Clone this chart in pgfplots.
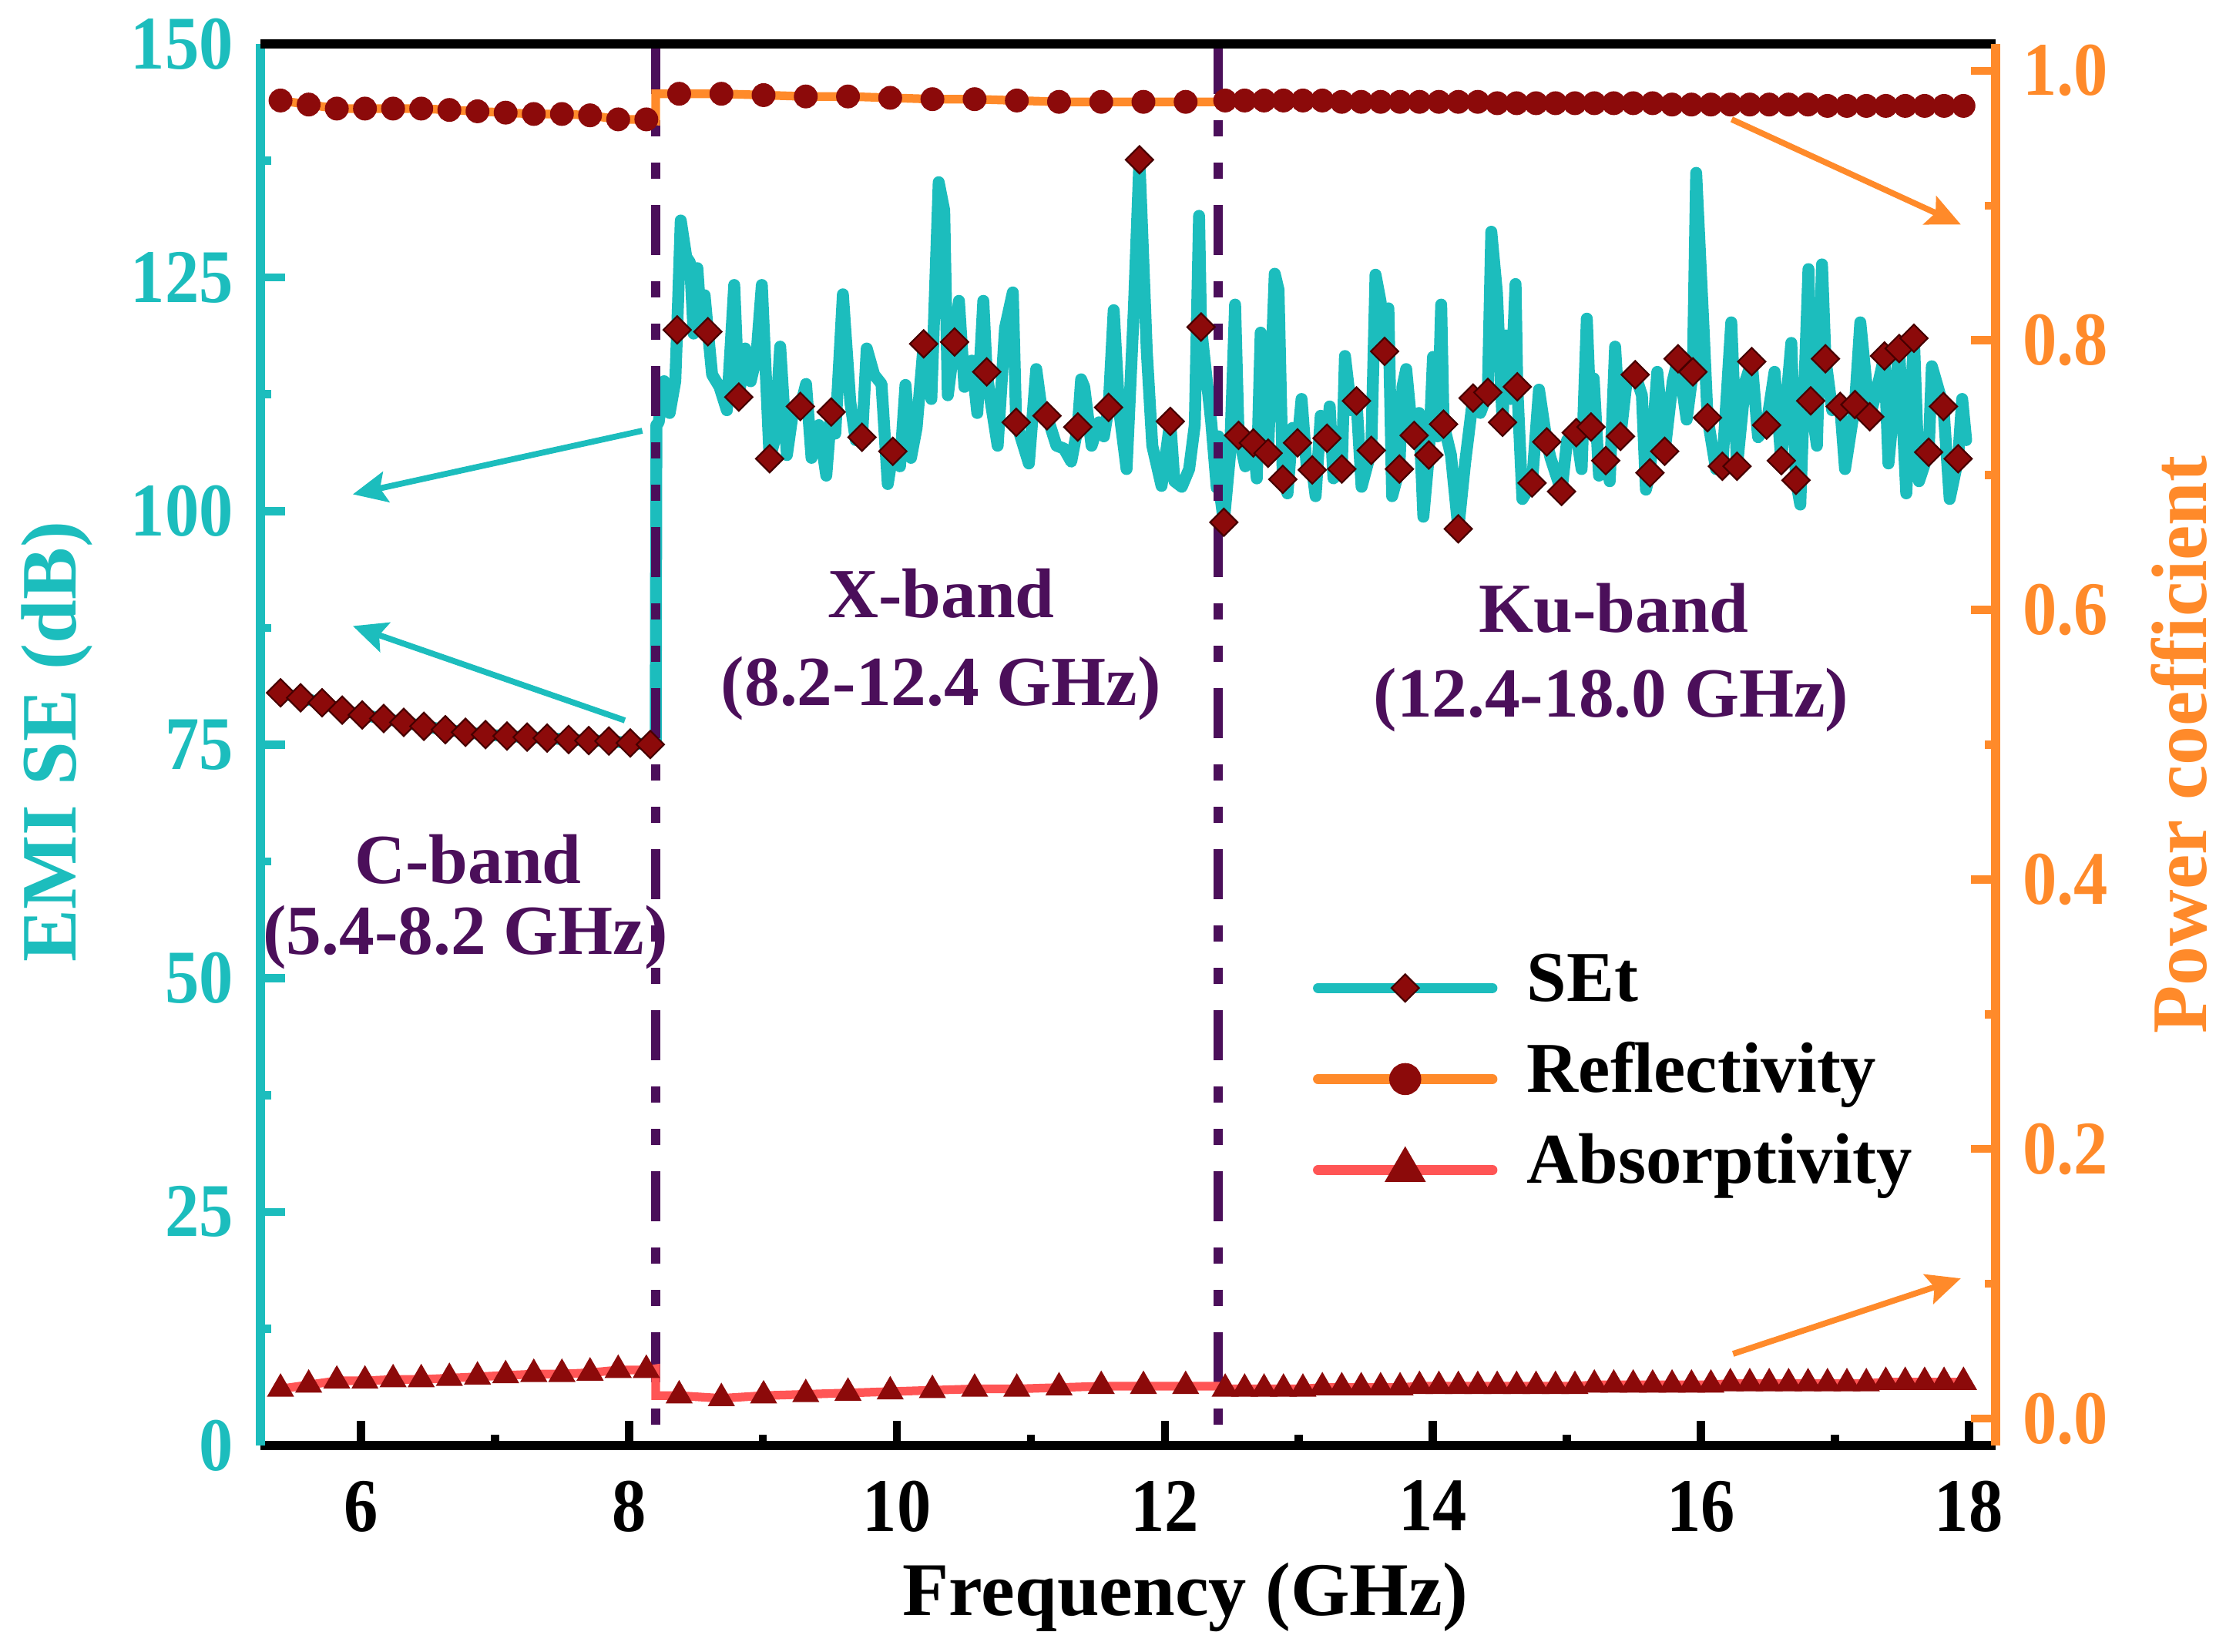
\documentclass[border=0pt]{standalone}
\usepackage{fontspec}
\setmainfont{Liberation Serif}
\newfontfamily\tickfont[FakeStretch=0.9]{Liberation Serif}
\usepackage{pgfplots}
\pgfplotsset{compat=1.18}
\usetikzlibrary{arrows.meta}
\definecolor{cyanc}{RGB}{28,189,189}
\definecolor{orangec}{RGB}{255,138,42}
\definecolor{redc}{RGB}{255,85,85}
\definecolor{mred}{RGB}{140,10,10}
\definecolor{mdark}{RGB}{70,0,0}
\definecolor{purp}{RGB}{75,15,90}
\tikzset{
  setline/.style={color=cyanc, line width=2.2pt, line join=round, line cap=round},
  setmark/.style={only marks, mark=square*, mark size=1.8pt, mark options={rotate=45, fill=mred, draw=mdark, line width=0.3pt}},
  rline/.style={color=orangec, line width=1.6pt, line cap=round},
  rmark/.style={only marks, mark=*, mark size=2.0pt, mark options={fill=mred, draw=mred}},
  aline/.style={color=redc, line width=1.6pt, line cap=round},
  amark/.style={only marks, mark=triangle*, mark size=2.5pt, mark options={fill=mred, draw=mred}},
  bandlab/.style={font=\fontsize{13}{15}\selectfont\bfseries, text=purp},
  vdash/.style={purp, line width=1.7pt, dash pattern=on 0.325cm off 0.17cm on 0.105cm off 0.17cm on 0.105cm off 0.17cm},
  carrow/.style={cyanc, line width=1.1pt, -{Stealth[length=0.22cm, width=0.2cm, inset=0.04cm]}},
  oarrow/.style={orangec, line width=1.1pt, -{Stealth[length=0.22cm, width=0.2cm, inset=0.04cm]}},
}
\begin{document}
\begin{tikzpicture}
\useasboundingbox (-1.69,-1.335) rectangle (12.755,9.38);
\begin{axis}[
  at={(0,0)}, anchor=south west,
  scale only axis, width=11.26cm, height=9.095cm,
  xmin=5.25, xmax=18.2, ymin=0, ymax=150,
  axis y line*=left, axis x line*=bottom,
  xtick={6,8,10,12,14,16,18}, minor x tick num=1,
  ytick={0,25,50,75,100,125,150}, minor y tick num=1,
  tick align=inside,
  major tick length=0.16cm, minor tick length=0.07cm,
  x axis line style={-, black, line width=1.8pt},
  y axis line style={-, cyanc, line width=1.8pt},
  x tick style={black, line width=1.5pt},
  y tick style={cyanc, line width=1.5pt},
  /pgf/number format/assume math mode=true,
  tick label style={font=\tickfont\fontsize{14}{16}\selectfont\bfseries},
  yticklabel style={text=cyanc, xshift=-1.5pt},
  xticklabel style={text=black, yshift=-3pt},
  xlabel={Frequency (GHz)},
  xlabel style={font=\fontsize{14}{16}\selectfont\bfseries, at={(axis description cs:0.533,-0.1083)}, anchor=center},
  ylabel={EMI SE (dB)},
  ylabel style={font=\fontsize{14.5}{17}\selectfont\bfseries, text=cyanc, at={(axis description cs:-0.1172,0.502)}, anchor=center},
]
% SEt line
\addplot[setline] coordinates {
(5.40,80.55)(5.55,80.02)(5.71,79.49)(5.86,78.70)(6.01,78.18)(6.17,77.81)(6.32,77.39)(6.47,76.97)(6.63,76.60)(6.78,76.33)(6.93,76.08)(7.09,75.92)(7.24,75.81)(7.39,75.71)(7.55,75.55)(7.70,75.44)(7.85,75.39)(8.01,75.18)(8.16,75.02)
(8.200,75.0)(8.205,109.2)(8.222,109.5)(8.263,113.9)(8.304,110.5)(8.346,113.9)(8.360,119.4)(8.387,131.1)(8.428,127.2)(8.456,126.6)(8.483,119.0)(8.511,126.0)(8.538,120.2)(8.565,123.1)(8.590,119.2)(8.621,114.6)(8.676,113.3)(8.731,110.8)(8.786,124.2)(8.820,112.2)(8.868,117.4)(8.909,113.9)(8.951,116.5)(8.992,124.2)(9.050,105.6)(9.088,107.6)(9.129,117.6)(9.179,106.0)(9.226,110.8)(9.280,111.2)(9.322,113.6)(9.363,105.7)(9.418,109.2)(9.473,103.8)(9.510,110.6)(9.540,108.3)(9.597,123.2)(9.652,111.7)(9.693,107.6)(9.740,107.9)(9.775,117.4)(9.830,114.6)(9.885,113.6)(9.932,102.9)(9.970,106.4)(10.023,104.8)(10.064,113.5)(10.105,105.7)(10.147,108.9)(10.200,117.9)(10.257,112.0)(10.312,135.2)(10.353,132.2)(10.380,112.4)(10.430,118.1)(10.463,122.5)(10.504,113.3)(10.559,116.1)(10.600,110.5)(10.645,122.5)(10.670,114.9)(10.697,112.0)(10.752,107.0)(10.807,119.6)(10.865,123.4)(10.890,109.5)(10.985,105.1)(11.040,115.2)(11.081,110.8)(11.120,110.2)(11.191,107.0)(11.246,106.7)(11.301,105.3)(11.350,109.0)(11.375,114.1)(11.398,113.3)(11.453,107.0)(11.508,109.5)(11.545,108.0)(11.580,111.1)(11.618,121.5)(11.659,110.8)(11.714,104.5)(11.769,121.8)(11.810,137.6)(11.865,117.1)(11.906,107.0)(11.975,102.7)(12.040,109.6)(12.071,103.2)(12.126,102.6)(12.181,104.5)(12.223,109.2)(12.255,131.6)(12.270,119.7)(12.346,109.5)(12.387,102.5)(12.400,108.0)(12.420,101.0)
(12.44,98.8)(12.486,106.0)(12.524,122.1)(12.55,108.1)(12.60,104.8)(12.66,107.3)(12.686,103.5)(12.715,119.1)(12.743,110.8)(12.77,106.2)(12.82,125.4)(12.848,123.7)(12.88,103.4)(12.915,101.9)(12.953,108.9)(12.99,107.3)(13.02,112.0)(13.058,104.8)(13.10,104.4)(13.125,101.6)(13.163,110.2)(13.21,107.8)(13.23,111.2)(13.258,103.5)(13.32,104.5)(13.344,116.6)(13.391,110.8)(13.43,111.8)(13.468,102.6)(13.54,106.5)(13.572,125.3)(13.61,122.4)(13.64,117.1)(13.668,121.7)(13.696,101.6)(13.75,104.5)(13.773,113.3)(13.801,115.2)(13.83,110.8)(13.86,108.1)(13.897,110.5)(13.929,99.4)(13.97,106.0)(14.001,116.5)(14.035,108.0)(14.062,122.1)(14.08,109.3)(14.135,106.0)(14.19,98.1)(14.24,105.1)(14.30,112.1)(14.354,110.5)(14.41,112.7)(14.436,129.9)(14.478,123.4)(14.52,109.5)(14.545,118.8)(14.58,112.0)(14.617,124.3)(14.63,113.3)(14.668,101.3)(14.74,103.0)(14.792,113.0)(14.85,107.4)(14.878,105.7)(14.96,102.1)(15.002,107.6)(15.07,108.4)(15.11,104.5)(15.149,120.6)(15.18,109.0)(15.20,114.2)(15.24,103.8)(15.29,105.4)(15.32,103.2)(15.36,117.6)(15.40,108.0)(15.446,113.9)(15.51,114.6)(15.56,112.4)(15.59,102.3)(15.62,104.1)(15.675,114.9)(15.73,106.4)(15.79,113.9)(15.83,116.3)(15.894,109.8)(15.94,114.9)(15.965,136.2)(16.02,119.6)(16.05,110.0)(16.113,104.5)(16.16,104.8)(16.227,120.2)(16.27,104.8)(16.332,113.9)(16.38,116.0)(16.427,107.9)(16.49,109.2)(16.55,114.9)(16.60,105.4)(16.675,118.0)(16.71,103.3)(16.742,100.7)(16.803,125.9)(16.82,111.8)(16.866,107.0)(16.904,126.4)(16.93,116.3)(16.98,110.8)(17.04,111.2)(17.076,104.5)(17.15,111.4)(17.19,120.2)(17.26,110.1)(17.304,112.4)(17.37,116.6)(17.40,105.1)(17.48,117.4)(17.533,101.9)(17.59,118.5)(17.628,103.2)(17.70,106.3)(17.724,115.5)(17.81,111.2)(17.857,101.3)(17.92,105.6)(17.95,112.0)(17.98,107.6)
};
% band separators
\addplot[vdash] coordinates {(8.2,150) (8.2,0)};
\addplot[vdash] coordinates {(12.4,150) (12.4,0)};
% SEt markers
\addplot[setmark] coordinates {
(5.40,80.55)(5.55,80.02)(5.71,79.49)(5.86,78.70)(6.01,78.18)(6.17,77.81)(6.32,77.39)(6.47,76.97)(6.63,76.60)(6.78,76.33)(6.93,76.08)(7.09,75.92)(7.24,75.81)(7.39,75.71)(7.55,75.55)(7.70,75.44)(7.85,75.39)(8.01,75.18)(8.16,75.02)
(8.36,119.4)(8.59,119.2)(8.82,112.2)(9.05,105.6)(9.28,111.2)(9.51,110.6)(9.74,107.9)(9.97,106.4)(10.20,117.9)(10.43,118.1)(10.67,114.9)(10.89,109.5)(11.12,110.2)(11.35,109.0)(11.58,111.1)(11.81,137.6)(12.04,109.6)(12.27,119.7)
(12.44,98.8)(12.55,108.1)(12.66,107.3)(12.77,106.2)(12.88,103.4)(12.99,107.3)(13.10,104.4)(13.21,107.8)(13.32,104.5)(13.43,111.8)(13.54,106.5)(13.64,117.1)(13.75,104.5)(13.86,108.1)(13.97,106.0)(14.08,109.3)(14.19,98.1)(14.30,112.1)(14.41,112.7)(14.52,109.5)(14.63,113.3)(14.74,103.0)(14.85,107.4)(14.96,102.1)(15.07,108.4)(15.18,109.0)(15.29,105.4)(15.40,108.0)(15.51,114.6)(15.62,104.1)(15.73,106.4)(15.83,116.3)(15.94,114.9)(16.05,110.0)(16.16,104.8)(16.27,104.8)(16.38,116.0)(16.49,109.2)(16.60,105.4)(16.71,103.3)(16.82,111.8)(16.93,116.3)(17.04,111.2)(17.15,111.4)(17.26,110.1)(17.37,116.6)(17.48,117.4)(17.59,118.5)(17.70,106.3)(17.81,111.2)(17.92,105.6)
};
% arrows and band labels
\draw[carrow] (axis cs:8.10,108.6) -- (axis cs:5.94,101.8);
\draw[carrow] (axis cs:7.97,77.6) -- (axis cs:5.94,87.7);
\node[bandlab] at (axis cs:6.80,62.75) {C-band};
\node[bandlab] at (axis cs:6.78,54.4) {(5.4-8.2 GHz)};
\node[bandlab] at (axis cs:10.33,91.2) {X-band};
\node[bandlab] at (axis cs:10.33,81.0) {(8.2-12.4 GHz)};
\node[bandlab] at (axis cs:15.35,89.6) {Ku-band};
\node[bandlab] at (axis cs:15.33,79.8) {(12.4-18.0 GHz)};
\end{axis}

\begin{axis}[
  at={(0,0)}, anchor=south west,
  scale only axis, width=11.26cm, height=9.095cm,
  xmin=5.25, xmax=18.2, ymin=-0.02, ymax=1.02,
  axis y line*=right, axis x line*=top,
  xtick=\empty,
  ytick={0,0.2,0.4,0.6,0.8,1.0}, minor ytick={0.1,0.3,0.5,0.7,0.9},
  tick align=inside,
  major tick length=0.16cm, minor tick length=0.07cm,
  x axis line style={-, black, line width=1.8pt},
  y axis line style={-, orangec, line width=1.8pt},
  y tick style={orangec, line width=1.5pt},
  /pgf/number format/assume math mode=true,
  tick label style={font=\tickfont\fontsize{14}{16}\selectfont\bfseries},
  yticklabel style={text=orangec, xshift=1.5pt, /pgf/number format/fixed, /pgf/number format/fixed zerofill, /pgf/number format/precision=1},
  ylabel={Power coefficient},
  ylabel style={font=\fontsize{14.5}{17}\selectfont\bfseries, text=orangec, at={(axis description cs:1.1057,0.5)}, anchor=center, rotate=0},
  legend image code/.code={\draw[mark repeat=2,mark phase=2,#1] plot coordinates {(0cm,0cm) (0.565cm,0cm) (1.13cm,0cm)};},
  legend style={draw=none, fill=none, at={(axis description cs:0.6066,0.348)}, anchor=north west, inner sep=0pt, outer sep=0pt, row sep=5.6pt, font=\fontsize{13.2}{15}\selectfont\bfseries, nodes={inner sep=1pt, text depth=0.22em, text height=0.7em}, /tikz/every odd column/.append style={column sep=0.157cm}},
  legend cell align=left,
]
\addlegendimage{color=cyanc, line width=1.9pt, line cap=round, mark=square*, mark size=1.8pt, mark options={solid, rotate=45, fill=mred, draw=mdark, line width=0.3pt}}
\addlegendentry{SEt}
\addlegendimage{color=orangec, line width=1.9pt, line cap=round, mark=*, mark size=2.0pt, mark options={solid, fill=mred, draw=mred}}
\addlegendentry{Reflectivity}
\addlegendimage{color=redc, line width=1.9pt, line cap=round, mark=triangle*, mark size=2.5pt, mark options={solid, fill=mred, draw=mred}}
\addlegendentry{Absorptivity}
% Reflectivity
\addplot[rline, forget plot] coordinates {
(5.40,0.978)(5.61,0.975)(5.82,0.972)(6.03,0.972)(6.24,0.972)(6.45,0.972)(6.66,0.971)(6.87,0.970)(7.08,0.969)(7.29,0.968)(7.50,0.968)(7.71,0.967)(7.92,0.964)(8.13,0.964)(8.20,0.963)(8.20,0.983)
(8.375,0.983)(8.69,0.983)(9.005,0.982)(9.32,0.981)(9.635,0.981)(9.95,0.980)(10.265,0.979)(10.58,0.979)(10.895,0.978)(11.21,0.977)(11.525,0.977)(11.84,0.977)(12.155,0.977)(12.40,0.977)
(12.45,0.978)(12.595,0.978)(12.74,0.978)(12.885,0.978)(13.03,0.978)(13.175,0.978)(13.32,0.977)(13.465,0.977)(13.61,0.977)(13.755,0.977)(13.90,0.977)(14.045,0.977)(14.19,0.977)(14.335,0.977)(14.48,0.976)(14.625,0.976)(14.77,0.976)(14.915,0.976)(15.06,0.976)(15.205,0.976)(15.35,0.976)(15.495,0.976)(15.64,0.976)(15.785,0.975)(15.93,0.975)(16.075,0.975)(16.22,0.975)(16.365,0.975)(16.51,0.975)(16.655,0.975)(16.80,0.975)(16.945,0.974)(17.09,0.974)(17.235,0.974)(17.38,0.974)(17.525,0.974)(17.67,0.974)(17.815,0.974)(17.96,0.974)
};
\addplot[rmark, forget plot] coordinates {
(5.40,0.978)(5.61,0.975)(5.82,0.972)(6.03,0.972)(6.24,0.972)(6.45,0.972)(6.66,0.971)(6.87,0.970)(7.08,0.969)(7.29,0.968)(7.50,0.968)(7.71,0.967)(7.92,0.964)(8.13,0.964)
(8.375,0.983)(8.69,0.983)(9.005,0.982)(9.32,0.981)(9.635,0.981)(9.95,0.980)(10.265,0.979)(10.58,0.979)(10.895,0.978)(11.21,0.977)(11.525,0.977)(11.84,0.977)(12.155,0.977)
(12.45,0.978)(12.595,0.978)(12.74,0.978)(12.885,0.978)(13.03,0.978)(13.175,0.978)(13.32,0.977)(13.465,0.977)(13.61,0.977)(13.755,0.977)(13.90,0.977)(14.045,0.977)(14.19,0.977)(14.335,0.977)(14.48,0.976)(14.625,0.976)(14.77,0.976)(14.915,0.976)(15.06,0.976)(15.205,0.976)(15.35,0.976)(15.495,0.976)(15.64,0.976)(15.785,0.975)(15.93,0.975)(16.075,0.975)(16.22,0.975)(16.365,0.975)(16.51,0.975)(16.655,0.975)(16.80,0.975)(16.945,0.974)(17.09,0.974)(17.235,0.974)(17.38,0.974)(17.525,0.974)(17.67,0.974)(17.815,0.974)(17.96,0.974)
};
% Absorptivity
\addplot[aline, forget plot] coordinates {
(5.40,0.022)(5.61,0.025)(5.82,0.028)(6.03,0.028)(6.24,0.029)(6.45,0.029)(6.66,0.030)(6.87,0.031)(7.08,0.032)(7.29,0.033)(7.50,0.033)(7.71,0.034)(7.92,0.036)(8.13,0.036)(8.20,0.037)(8.20,0.017)
(8.375,0.017)(8.69,0.015)(9.005,0.017)(9.32,0.018)(9.635,0.019)(9.95,0.020)(10.265,0.021)(10.58,0.022)(10.895,0.022)(11.21,0.023)(11.525,0.024)(11.84,0.024)(12.155,0.024)(12.40,0.024)
(12.45,0.022)(12.595,0.022)(12.74,0.022)(12.885,0.022)(13.03,0.022)(13.175,0.023)(13.32,0.023)(13.465,0.023)(13.61,0.023)(13.755,0.023)(13.90,0.024)(14.045,0.024)(14.19,0.024)(14.335,0.024)(14.48,0.024)(14.625,0.024)(14.77,0.024)(14.915,0.024)(15.06,0.024)(15.205,0.025)(15.35,0.025)(15.495,0.025)(15.64,0.025)(15.785,0.025)(15.93,0.025)(16.075,0.025)(16.22,0.026)(16.365,0.026)(16.51,0.026)(16.655,0.026)(16.80,0.026)(16.945,0.026)(17.09,0.026)(17.235,0.026)(17.38,0.027)(17.525,0.027)(17.67,0.027)(17.815,0.027)(17.96,0.027)
};
\addplot[amark, forget plot] coordinates {
(5.40,0.022)(5.61,0.025)(5.82,0.028)(6.03,0.028)(6.24,0.029)(6.45,0.029)(6.66,0.030)(6.87,0.031)(7.08,0.032)(7.29,0.033)(7.50,0.033)(7.71,0.034)(7.92,0.036)(8.13,0.036)
(8.375,0.017)(8.69,0.015)(9.005,0.017)(9.32,0.018)(9.635,0.019)(9.95,0.020)(10.265,0.021)(10.58,0.022)(10.895,0.022)(11.21,0.023)(11.525,0.024)(11.84,0.024)(12.155,0.024)
(12.45,0.022)(12.595,0.022)(12.74,0.022)(12.885,0.022)(13.03,0.022)(13.175,0.023)(13.32,0.023)(13.465,0.023)(13.61,0.023)(13.755,0.023)(13.90,0.024)(14.045,0.024)(14.19,0.024)(14.335,0.024)(14.48,0.024)(14.625,0.024)(14.77,0.024)(14.915,0.024)(15.06,0.024)(15.205,0.025)(15.35,0.025)(15.495,0.025)(15.64,0.025)(15.785,0.025)(15.93,0.025)(16.075,0.025)(16.22,0.026)(16.365,0.026)(16.51,0.026)(16.655,0.026)(16.80,0.026)(16.945,0.026)(17.09,0.026)(17.235,0.026)(17.38,0.027)(17.525,0.027)(17.67,0.027)(17.815,0.027)(17.96,0.027)
};
\draw[oarrow] (axis cs:16.23,0.964) -- (axis cs:17.94,0.886);
\draw[oarrow] (axis cs:16.24,0.048) -- (axis cs:17.94,0.104);
\end{axis}
\end{tikzpicture}
\end{document}
